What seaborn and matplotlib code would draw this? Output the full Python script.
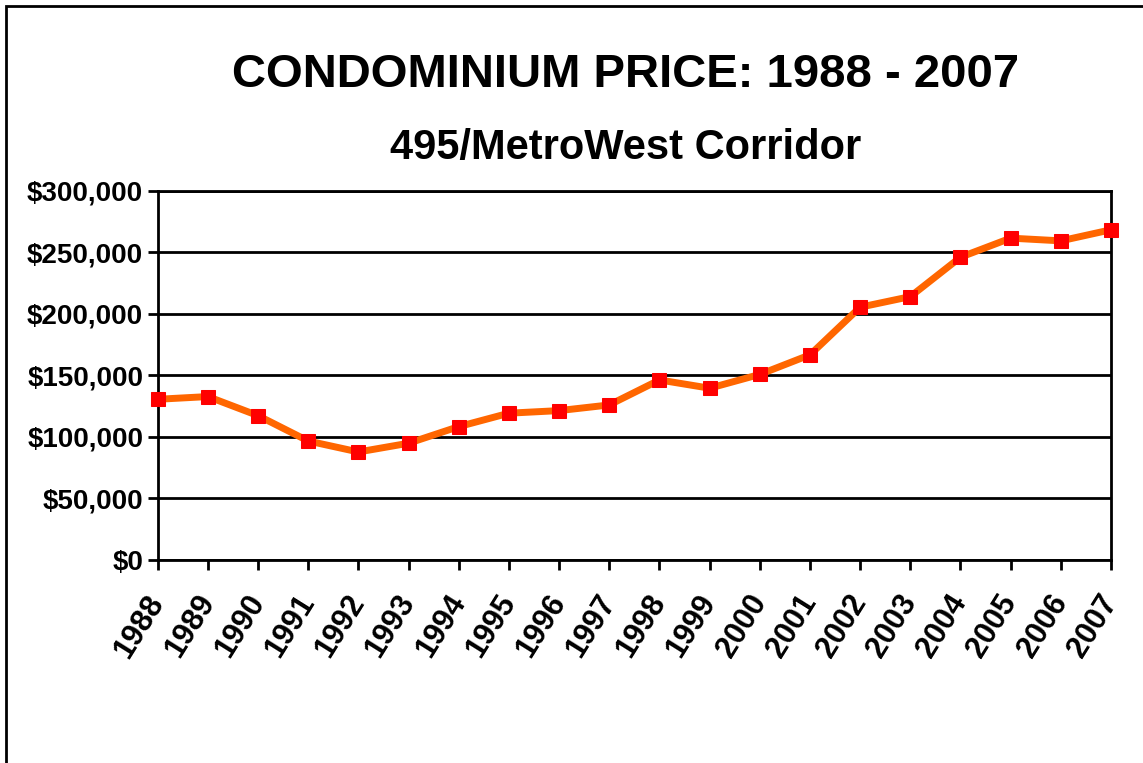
import matplotlib
matplotlib.use("Agg")
import matplotlib.pyplot as plt
from matplotlib.ticker import FuncFormatter
from matplotlib.patches import Rectangle
import pandas as pd
import seaborn as sns

years = list(range(1988, 2008))
prices = [130600, 132800, 117300, 96700, 87800, 94900, 108400, 119300, 121400, 126000,
          146300, 139600, 150800, 166700, 205400, 214000, 246000, 261500, 259300, 268300]

df = pd.DataFrame({"year": years, "price": prices})

sns.set_style("white")
plt.rcParams["font.family"] = ["Liberation Sans", "DejaVu Sans"]
plt.rcParams["text.color"] = "black"
plt.rcParams["xtick.color"] = "black"
plt.rcParams["ytick.color"] = "black"

fig = plt.figure(figsize=(11.43, 7.63), dpi=100)
ax = fig.add_axes([0.138, 0.266, 0.834, 0.484])

sns.lineplot(data=df, x="year", y="price", ax=ax, color="#FF6600", linewidth=5,
             marker="s", markersize=10.5, markerfacecolor="#FF0000",
             markeredgecolor="#FF0000", clip_on=False, zorder=5)

ax.set_xlim(1988, 2007)
ax.set_ylim(0, 300000)
ax.set_xticks(years)
ax.set_xticklabels([str(y) for y in years], rotation=58, ha="right", va="center",
                   rotation_mode="anchor", fontsize=22, fontweight="bold")
ax.set_yticks(range(0, 300001, 50000))
ax.yaxis.set_major_formatter(FuncFormatter(lambda v, p: f"${int(v):,}"))
for lbl in ax.get_yticklabels():
    lbl.set_fontsize(20)
    lbl.set_fontweight("bold")
ax.grid(axis="y", color="black", linewidth=2)
ax.tick_params(axis="both", direction="out", length=7, width=2, color="black",
               bottom=True, left=True)
ax.tick_params(axis="x", pad=20)
for s in ax.spines.values():
    s.set_color("black")
    s.set_linewidth(2)
ax.set_xlabel("")
ax.set_ylabel("")

fig.text(0.547, 0.902, "CONDOMINIUM PRICE: 1988 - 2007", ha="center", va="center",
         fontsize=34, fontweight="bold")
fig.text(0.547, 0.806, "495/MetroWest Corridor", ha="center", va="center",
         fontsize=30, fontweight="bold")

# border of the chart area (only left and top edges fall inside the picture)
fig.patches.append(Rectangle((0.005, -0.05), 1.1, 1.042, transform=fig.transFigure,
                             fill=False, edgecolor="black", linewidth=2))

fig.savefig("out.png", dpi=100)
